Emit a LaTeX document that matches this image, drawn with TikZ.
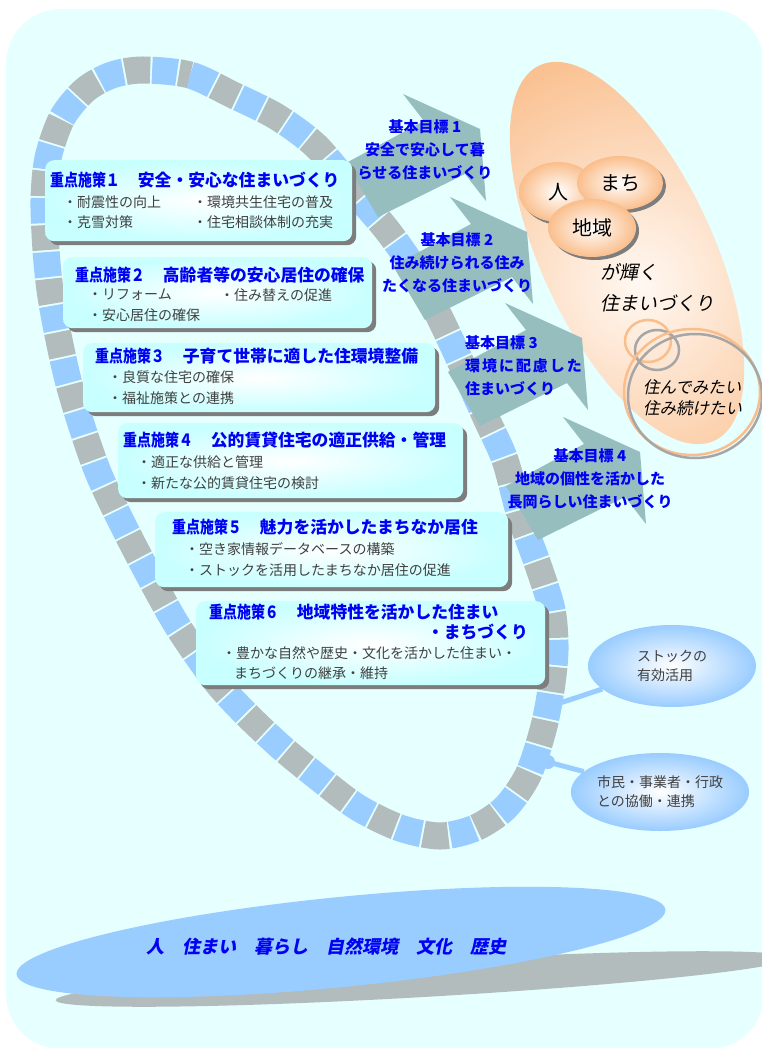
\documentclass[tikz,border=0pt]{standalone}
\usepackage{fontspec}
\setmainfont{Noto Sans CJK JP}
\newfontfamily\slantjp{Noto Sans CJK JP}[FakeSlant=0.2]
\newfontfamily\narrowjp{Noto Sans CJK JP}[FakeStretch=0.83]
\usepackage{xcolor}
\usepackage{tikz}
\usetikzlibrary{shapes.geometric, shadows, positioning}

\definecolor{bgcyan}{RGB}{230,255,255}
\definecolor{chainblue}{RGB}{153,204,255}
\definecolor{chaingray}{RGB}{178,188,188}
\definecolor{goalteal}{RGB}{150,190,190}
\definecolor{boxcyan}{RGB}{200,255,255}
\definecolor{shadowgray}{RGB}{125,125,125}
\definecolor{townorange}{RGB}{250,190,140}
\definecolor{townlight}{RGB}{255,248,242}
\definecolor{textgray}{RGB}{64,64,64}
\definecolor{titleblue}{RGB}{0,0,245}

\tikzstyle{measure} = [rectangle, rounded corners=9pt, anchor=north west, inner sep=0pt, inner color=white, outer color=boxcyan, drop shadow={shadow xshift=4pt, shadow yshift=-4pt, fill=shadowgray, opacity=1}]
\tikzstyle{headline} = [anchor=west, inner sep=0pt, text=titleblue, font=\fontsize{16.8pt}{20pt}\selectfont\bfseries]
\tikzstyle{point} = [anchor=west, inner sep=0pt, text=textgray, font=\fontsize{14pt}{17pt}\selectfont]
\tikzstyle{goal} = [fill=goalteal]
\tikzstyle{goaltext} = [align=center, inner sep=0pt, text=titleblue, font=\fontsize{15pt}{23pt}\selectfont\bfseries]
\tikzstyle{bubble} = [ellipse, inner sep=0pt, inner color=white, outer color=townorange, drop shadow={shadow xshift=3pt, shadow yshift=-3pt, fill=shadowgray, opacity=1}, font=\fontsize{20pt}{24pt}\selectfont]
\tikzstyle{effect} = [ellipse, inner sep=0pt, inner color=white, outer color=chainblue, align=left, text=textgray, font=\fontsize{14pt}{19pt}\selectfont]
\tikzstyle{link} = [draw=chainblue, line width=5pt]
\tikzstyle{ring} = [line width=2.5pt]

\newcommand{\measurenum}[1]{{\narrowjp 重点施策#1}\hspace{18pt}}

\begin{document}
\begin{tikzpicture}[x=1pt, y=1pt]

\useasboundingbox (0,0) rectangle (761,-1048);
\fill[bgcyan, rounded corners=55pt] (6,-9) rectangle (764,-1049);

% base of everyday life
\fill[chaingray, rotate around={3.3:(423,-979)}] (423,-979) ellipse [x radius=368, y radius=18];
\fill[chainblue, rotate around={5.7:(341,-942)}] (341,-942) ellipse [x radius=326, y radius=45];
\node (life) at (326,-947) [text=titleblue, font=\slantjp\bfseries\fontsize{18pt}{20pt}\selectfont] {人　住まい　暮らし　自然環境　文化　歴史};

% vision
\begin{scope}
\clip[rotate around={-65:(627,-253)}] (627,-253) ellipse [x radius=207, y radius=86];
\shade[inner color=townlight, outer color=townorange] (640,-285) circle (250);
\end{scope}
\node (hito) [bubble, minimum width=78pt, minimum height=60pt] at (558,-192) {人};
\node (machi) [bubble, minimum width=86pt, minimum height=54pt] at (620,-183) {まち};
\node (chiiki) [bubble, minimum width=88pt, minimum height=58pt] at (592,-228) {地域};
\node (kagayaku) [anchor=west, align=left, inner sep=0pt, font=\slantjp\fontsize{19pt}{31pt}\selectfont] at (600,-288) {が輝く\\住まいづくり};
\draw[ring, townorange] (648,-341) ellipse [x radius=23, y radius=21];
\draw[ring, gray!70] (657,-350) ellipse [x radius=22, y radius=20];
\draw[ring, townorange] (692,-392) ellipse [x radius=68, y radius=63];
\draw[ring, gray!70] (695,-396) ellipse [x radius=67, y radius=62];
\node (sumitai) [anchor=west, align=left, inner sep=0pt, font=\slantjp\fontsize{16.5pt}{21pt}\selectfont] at (643,-397.5) {住んでみたい\\住み続けたい};

% chain loop
\draw[chainblue, line width=27pt, dash pattern=on 25pt off 29pt,
  postaction={draw=chaingray, line width=27pt, dash pattern=on 25pt off 29pt, dash phase=27pt}]
  plot [smooth cycle] coordinates {(143,-70) (190,-75) (233,-95) (277,-117) (317,-147) (357,-195) (387,-230) (415,-270) (440,-318) (462,-365) (487,-420) (505,-460) (520,-515) (538,-565) (552,-610) (555,-650) (551,-690) (543,-730) (528,-775) (505,-808) (475,-828) (440,-836) (400,-828) (357,-807) (315,-775) (281,-747) (245,-713) (215,-680) (180,-630) (157,-590) (127,-533) (100,-477) (83,-430) (68,-380) (57,-330) (50,-290) (46,-250) (44,-200) (48,-158) (62,-118) (85,-90) (112,-75)};

% goal arrows
\fill[goal, shift={(403,-94)}] (0,0) -- (77,-35) -- (83,-107) -- (62,-80) -- (-25,-123) -- (-57,-69) -- (21,-27) -- cycle;
\fill[goal, shift={(450,-197)}] (0,0) -- (77,-35) -- (83,-107) -- (62,-80) -- (-25,-123) -- (-57,-69) -- (21,-27) -- cycle;
\fill[goal, shift={(505,-303)}] (0,0) -- (77,-35) -- (83,-107) -- (62,-80) -- (-25,-123) -- (-57,-69) -- (21,-27) -- cycle;
\fill[goal, shift={(563,-417)}] (0,0) -- (77,-35) -- (83,-107) -- (62,-80) -- (-25,-123) -- (-57,-69) -- (21,-27) -- cycle;

\node (goal1) [goaltext] at (425,-150) {基本目標 1\\安全で安心して暮\\らせる住まいづくり};
\node (goal2) [goaltext] at (457,-262.5) {基本目標 2\\住み続けられる住み\\たくなる住まいづくり};
\node (goal3) [goaltext, align=left, anchor=west] at (465,-366) {基本目標 3\\{\addfontfeature{LetterSpace=13}環境に配慮した}\\住まいづくり};
\node (goal4) [goaltext] at (590,-478.5) {基本目標 4\\地域の個性を活かした\\長岡らしい住まいづくり};

% measures
\node (measure1) [measure, minimum width=307pt, minimum height=81pt] at (45,-160) {};
\node (title1) [headline] at (50,-180) {\measurenum{１}安全・安心な住まいづくり};
\node (item1a) [point] at (63,-202) {・耐震性の向上};
\node (item1b) [point] at (193,-202) {・環境共生住宅の普及};
\node (item1c) [point] at (63,-222) {・克雪対策};
\node (item1d) [point] at (193,-222) {・住宅相談体制の充実};

\node (measure2) [measure, minimum width=309pt, minimum height=71pt] at (63,-257) {};
\node (title2) [headline] at (75,-275) {\measurenum{２}高齢者等の安心居住の確保};
\node (item2a) [point] at (88,-295) {・リフォーム};
\node (item2b) [point] at (220,-295) {・住み替えの促進};
\node (item2c) [point] at (88,-315) {・安心居住の確保};

\node (measure3) [measure, minimum width=352pt, minimum height=69pt] at (83,-343) {};
\node (title3) [headline] at (95,-356) {\measurenum{３}子育て世帯に適した住環境整備};
\node (item3a) [point] at (108,-377) {・良質な住宅の確保};
\node (item3b) [point] at (108,-398) {・福祉施策との連携};

\node (measure4) [measure, minimum width=345pt, minimum height=75pt] at (118,-423) {};
\node (title4) [headline] at (123,-440) {\measurenum{４}公的賃貸住宅の適正供給・管理};
\node (item4a) [point] at (137,-462) {・適正な供給と管理};
\node (item4b) [point] at (137,-483) {・新たな公的賃貸住宅の検討};

\node (measure5) [measure, minimum width=353pt, minimum height=75pt] at (155,-512) {};
\node (title5) [headline] at (172,-527) {\measurenum{５}魅力を活かしたまちなか居住};
\node (item5a) [point] at (185,-549) {・空き家情報データベースの構築};
\node (item5b) [point] at (185,-570) {・ストックを活用したまちなか居住の促進};

\node (measure6) [measure, minimum width=349pt, minimum height=84pt] at (196,-601) {};
\node (title6) [headline] at (209,-612) {\measurenum{６}地域特性を活かした住まい};
\node (title6b) [headline, anchor=east] at (528,-632) {・まちづくり};
\node (item6a) [point] at (222,-653) {・豊かな自然や歴史・文化を活かした住まい・};
\node (item6b) [point] at (234,-673) {まちづくりの継承・維持};

% side effects
\node (stock) [effect, minimum width=168pt, minimum height=82pt] at (672,-666) {ストックの\\有効活用};
\node (kyodo) [effect, minimum width=166pt, minimum height=78pt] at (660,-792) {市民・事業者・行政\\との協働・連携};
\coordinate (joint1) at (560,-703);
\coordinate (joint2) at (548,-762);
\draw[link] (joint1) -- (stock);
\draw[link] (joint2) -- (kyodo);
\fill[chainblue] (joint2) circle (7);

\end{tikzpicture}
\end{document}
